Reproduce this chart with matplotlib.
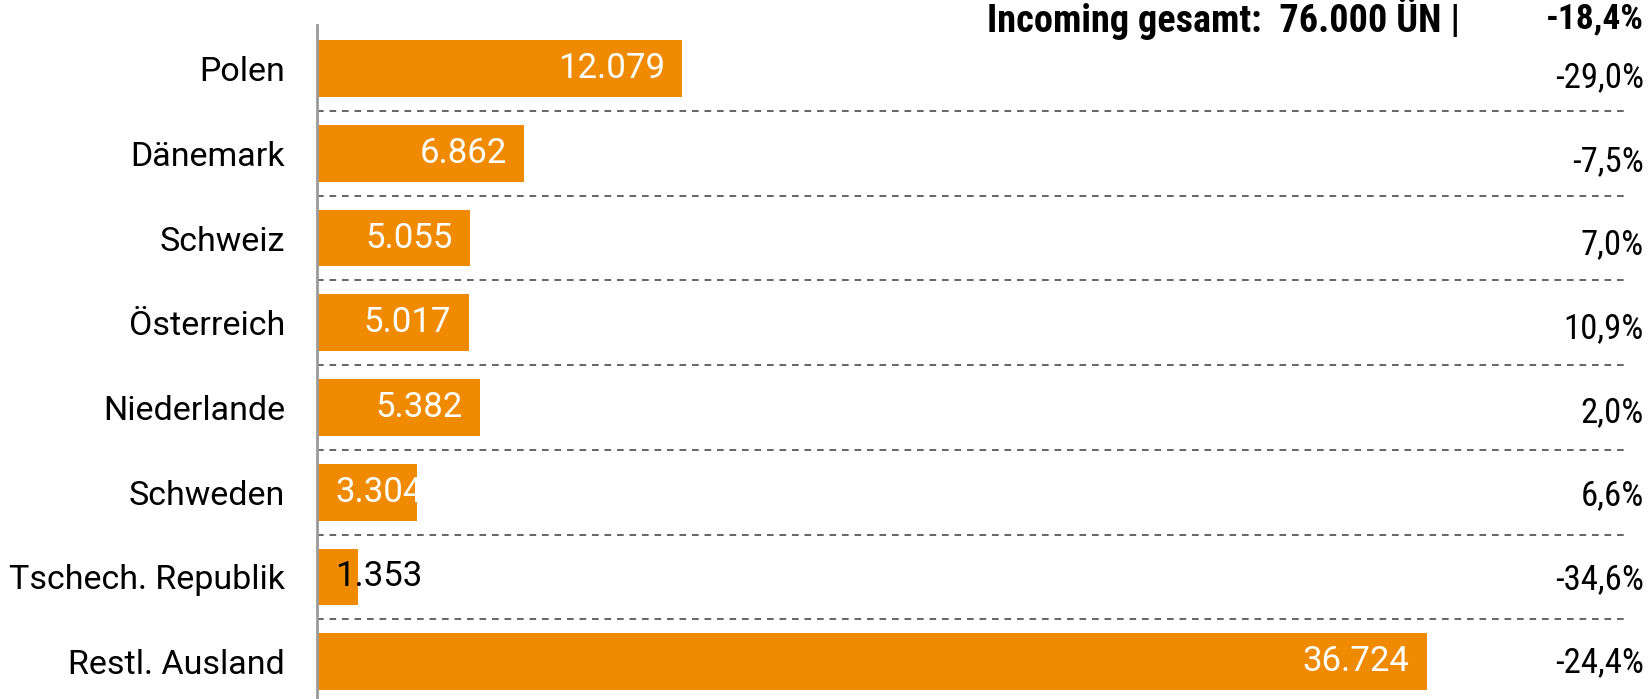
import matplotlib
matplotlib.use("Agg")
import matplotlib.pyplot as plt
import matplotlib.transforms as mtransforms

# data
countries = ["Polen", "Dänemark", "Schweiz", "Österreich", "Niederlande",
             "Schweden", "Tschech. Republik", "Restl. Ausland"]
values = [12079, 6862, 5055, 5017, 5382, 3304, 1353, 36724]
changes = ["-29,0%", "-7,5%", "7,0%", "10,9%", "2,0%", "6,6%", "-34,6%", "-24,4%"]
total_label = "Incoming gesamt:  76.000 ÜN |"
total_change = "-18,4%"

BAR_COLOR = "#F08A00"
FONT = ["Roboto", "DejaVu Sans"]
NARROW = ["Roboto Condensed", "Liberation Sans Narrow", "Roboto", "DejaVu Sans"]

plt.rcParams["font.family"] = FONT

W, H, DPI = 1652, 699, 100
fig = plt.figure(figsize=(W / DPI, H / DPI), dpi=DPI)
ax = fig.add_axes([317 / W, 0, (1625 - 317) / W, (699 - 25) / H])

y = list(range(len(countries)))
ax.barh(y, values, height=0.67, color=BAR_COLOR, zorder=2)
ax.set_xlim(0, 43282)
ax.set_ylim(len(countries) - 0.56, -0.514)

# dashed separators between rows
for i in range(len(countries) - 1):
    ax.axhline(i + 0.5, color="#4a4a4a", linewidth=1.2, linestyle=(0, (4, 3.5)), zorder=1)

for side in ["top", "right", "bottom"]:
    ax.spines[side].set_visible(False)
ax.spines["left"].set_color("#9a9a9a")
ax.spines["left"].set_linewidth(2)
ax.spines["left"].set_zorder(3)
ax.set_xticks([])
ax.set_yticks(y)
ax.set_yticklabels(countries, fontsize=24.5)
ax.tick_params(axis="y", length=0, pad=23)

# value labels inside bars (clamped to the axis for short bars)
renderer = fig.canvas.get_renderer()
px_per_unit = ax.bbox.width / ax.get_xlim()[1]
for yi, v in zip(y, values):
    label = f"{v:,}".replace(",", ".")
    t = ax.text(0, yi, label, fontsize=25)
    tw = t.get_window_extent(renderer).width
    t.remove()
    bar_px = v * px_per_unit
    color = "white" if bar_px > tw else "black"
    if bar_px - 18 >= tw + 19:
        ax.annotate(label, (v, yi), xytext=(-12.5, 0), textcoords="offset points",
                    ha="right", va="center", fontsize=25, color=color, zorder=4)
    else:
        ax.annotate(label, (0, yi), xytext=(13, 0), textcoords="offset points",
                    ha="left", va="center", fontsize=25, color=color, zorder=4)

# percentage change column
trans = mtransforms.blended_transform_factory(fig.transFigure, ax.transData)
for yi, c in zip(y, changes):
    shift = mtransforms.ScaledTranslation(0, -(9.5 - 1.2 * yi) / DPI, fig.dpi_scale_trans)
    fig.text(1644 / W, yi, c, transform=trans + shift, ha="right", va="center",
             fontsize=25, family=NARROW)

fig.text(1460 / W, 1 - 19 / H, total_label, ha="right", va="center",
         fontsize=27.5, fontweight="bold", family=NARROW)
fig.text(1644 / W, 1 - 19 / H, total_change, ha="right", va="center",
         fontsize=25.5, fontweight="bold", family=NARROW)

fig.savefig("out.png", dpi=DPI)
